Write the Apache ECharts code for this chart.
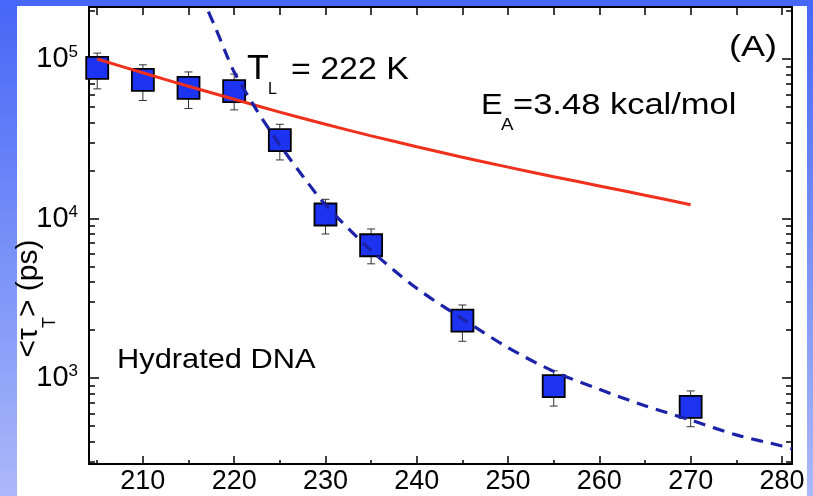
<!DOCTYPE html>
<html><head><meta charset="utf-8">
<script src="https://cdn.jsdelivr.net/npm/echarts@6/dist/echarts.min.js"></script>
<style>
html,body{margin:0;padding:0;width:813px;height:496px;overflow:hidden;
background:linear-gradient(to bottom,#4667f7 0%,#7890f8 50%,#abb8f9 100%);}
#bg{position:absolute;left:17px;top:6px;width:790px;height:490px;background:#fff;}
#c{position:absolute;left:0;top:0;width:813px;height:496px;}
</style></head><body><div id="bg"></div><div id="c"></div>
<script>
// measured data points (temperature K, <tau_T> ps)
const temps = [205, 210, 215, 220, 225, 230, 235, 245, 255, 270];
const tau = [88000, 74000, 66000, 63000, 31000, 10600, 6800, 2290, 890, 660];
const tauErrHigh = [109000, 92000, 83000, 80500, 39000, 13200, 8600, 2870, 1110, 830];
const tauErrLow = [65000, 55000, 49000, 48000, 23300, 8000, 5200, 1700, 667, 495];
// Arrhenius line (red)
const arrT = [205, 210, 215, 220, 225, 230, 235, 240, 245, 250, 255, 260, 265, 270];
const arrTau = [100000, 82000, 67500, 56000, 46500, 39000, 33000, 28200, 24200, 21000, 18300, 16000, 14000, 12200];
// fit curve (blue dashed)
const vftT = [216.5, 217, 218, 219, 220, 222.5, 225, 227.5, 230, 235, 240, 245, 250, 255, 260, 265, 270, 275, 280, 281.1];
const vftTau = [260000, 210000, 155000, 112000, 83000, 47500, 29000, 18500, 12200, 6300, 3650, 2350, 1550, 1100, 850, 670, 545, 440, 375, 360];
// ticks
const xMajor = [210, 220, 230, 240, 250, 260, 270, 280];
const xMinor = [205, 215, 225, 235, 245, 255, 265, 275];
const xTop = [205, 210, 215, 220, 225, 230, 235, 240, 245, 250, 255, 260, 265, 270, 275, 280];
const yMajor = [1000, 10000, 100000];
const yMinor = [300, 400, 500, 600, 700, 800, 900, 2000, 3000, 4000, 5000, 6000, 7000, 8000, 9000,
  20000, 30000, 40000, 50000, 60000, 70000, 80000, 90000, 200000];
const yExp = {1000: '3', 10000: '4', 100000: '5'};

const FF = 'Liberation Sans, Arial, Helvetica, sans-serif';
const X0 = 204.1, X1 = 281.1, Y0 = 289, Y1 = 212000;
const chart = echarts.init(document.getElementById('c'), null, {renderer: 'canvas'});

function xAx(pos, ticks, len, labels, showLine) {
  return {
    type: 'value', min: X0, max: X1, position: pos,
    axisLine: {show: showLine, onZero: false, lineStyle: {color: '#000', width: 2}},
    axisTick: {show: true, inside: true, length: len, customValues: ticks, lineStyle: {color: '#000', width: 1.5}},
    axisLabel: labels ? {
      customValues: labels, color: '#000', fontFamily: FF, margin: 4,
      formatter: v => '{b|' + Math.round(v) + '}',
      rich: {b: {fontSize: 27, fontFamily: FF, color: '#000', lineHeight: 28}}
    } : {show: false},
    splitLine: {show: false}
  };
}
function yAx(pos, ticks, len, labels, showLine) {
  return {
    type: 'log', logBase: 10, min: Y0, max: Y1, position: pos,
    axisLine: {show: showLine, onZero: false, lineStyle: {color: '#000', width: 2}},
    axisTick: {show: true, inside: true, length: len, customValues: ticks, lineStyle: {color: '#000', width: 1.5}},
    axisLabel: labels ? {
      customValues: labels, margin: 11, color: '#000', fontFamily: FF,
      formatter: v => '{b|10}{s|' + yExp[Math.round(v)] + '}',
      rich: {
        b: {fontSize: 29, fontFamily: FF, color: '#000', verticalAlign: 'middle', lineHeight: 30},
        s: {fontSize: 17, fontFamily: FF, color: '#000', verticalAlign: 'top', lineHeight: 17, padding: [0, 0, 17, 0]}
      }
    } : {show: false},
    splitLine: {show: false}
  };
}

function txt(text, x, y, size, sx) {
  return {type: 'text', x: x, y: y, scaleX: sx || 1, z: 10,
    style: {text: text, x: 0, y: 0, fontSize: size, fontFamily: FF, fill: '#000', align: 'left', verticalAlign: 'middle'}};
}

const option = {
  animation: false,
  backgroundColor: 'transparent',
  grid: {left: 89, right: 21, top: 7, bottom: 32, show: false},
  xAxis: [
    xAx('bottom', xMajor, 8, xMajor, true),
    xAx('bottom', xMinor, 4, null, false),
    xAx('top', xTop, 8, null, true)
  ],
  yAxis: [
    yAx('left', yMajor, 10, yMajor, true),
    yAx('left', yMinor, 6, null, false),
    yAx('right', yMajor, 10, null, true),
    yAx('right', yMinor, 6, null, false)
  ],
  graphic: {elements: [
    txt('(A)', 729, 48, 30, 1.2),
    txt('T', 247, 69.5, 35, 1.02),
    txt('L', 268, 90, 16, 1),
    txt('= 222 K', 291, 70, 32, 1.06),
    txt('E', 481, 106, 29, 1.12),
    txt('A', 501, 125, 17, 1.1),
    txt('=3.48 kcal/mol', 513, 106, 29, 1.19),
    txt('Hydrated DNA', 117, 360, 28, 1.1),
    {type: 'text', x: 28.5, y: 298.5, rotation: Math.PI / 2, z: 10,
      style: {text: '{n|<τ}{s|T}{n|> (ps)}', x: 0, y: 0, align: 'center', verticalAlign: 'middle', fill: '#000',
        rich: {
          n: {fontSize: 30, fontFamily: FF, fill: '#000', verticalAlign: 'middle', lineHeight: 34},
          s: {fontSize: 18, fontFamily: FF, fill: '#000', verticalAlign: 'top', lineHeight: 18, padding: [30, 0, 0, 0]}
        }}}
  ]},
  series: [
    {
      type: 'custom', xAxisIndex: 0, yAxisIndex: 0, z: 3, clip: false,
      data: temps.map((t, i) => [t, tauErrLow[i], tauErrHigh[i]]),
      encode: {x: 0, y: [1, 2]},
      renderItem: function (params, api) {
        const x = api.value(0);
        const pLo = api.coord([x, api.value(1)]);
        const pHi = api.coord([x, api.value(2)]);
        const w = 4, st = {stroke: '#333', lineWidth: 1};
        return {type: 'group', children: [
          {type: 'line', shape: {x1: pLo[0], y1: pLo[1], x2: pHi[0], y2: pHi[1]}, style: st},
          {type: 'line', shape: {x1: pLo[0] - w, y1: pLo[1], x2: pLo[0] + w, y2: pLo[1]}, style: st},
          {type: 'line', shape: {x1: pHi[0] - w, y1: pHi[1], x2: pHi[0] + w, y2: pHi[1]}, style: st}
        ]};
      }
    },
    {
      type: 'scatter', xAxisIndex: 0, yAxisIndex: 0, z: 4,
      symbol: 'rect', symbolSize: 22,
      itemStyle: {color: '#1c33f2', borderColor: '#000', borderWidth: 1.8, opacity: 1},
      data: temps.map((t, i) => [t, tau[i]])
    },
    {
      type: 'line', xAxisIndex: 0, yAxisIndex: 0, z: 5, showSymbol: false, symbol: 'none', smooth: 0.3,
      lineStyle: {color: '#f0301c', width: 3},
      data: arrT.map((t, i) => [t, arrTau[i]])
    },
    {
      type: 'line', xAxisIndex: 0, yAxisIndex: 0, z: 6, showSymbol: false, symbol: 'none', smooth: 0.3, clip: true,
      lineStyle: {color: '#1b22a8', width: 3.2, type: [12, 8]},
      data: vftT.map((t, i) => [t, vftTau[i]])
    }
  ]
};
chart.setOption(option);
</script></body></html>
